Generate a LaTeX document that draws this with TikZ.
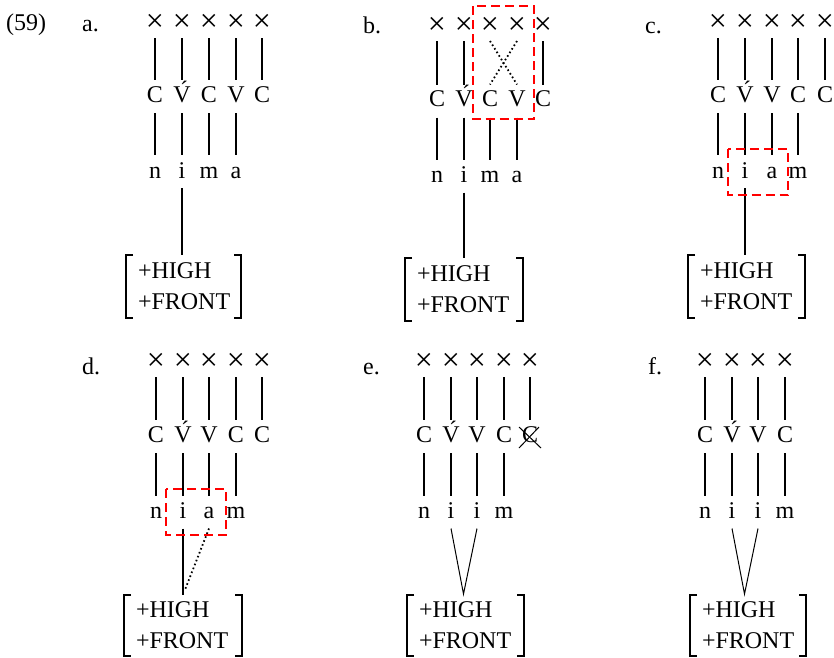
\documentclass[tikz,border=0pt]{standalone}
\usepackage{fontspec}
\setmainfont{Liberation Serif}
\usetikzlibrary{calc}
\tikzset{
  tier/.style={inner sep=0pt, outer sep=0pt, anchor=base, font=\fontsize{24}{24}\selectfont},
  xn/.style={tier, font=\fontsize{32}{32}\selectfont, text height=14pt, text depth=7pt},
  cn/.style={tier, text height=22pt, text depth=11pt},
  sn/.style={tier, text height=23pt, text depth=10pt},
  assoc/.style={line width=1.6pt},
  dotl/.style={line width=1.8pt, dash pattern=on 1.6pt off 2.6pt},
  redbox/.style={draw=red, line width=1.8pt, dash pattern=on 9pt off 5pt},
  feat/.style={inner xsep=12pt, inner ysep=0pt, outer sep=0pt, minimum height=63pt, anchor=north, align=left, text width=#1, font=\fontsize{24}{31}\selectfont},
  brk/.style={line width=2pt},
  thinl/.style={line width=1pt},
  lbl/.style={anchor=base west, inner sep=0pt, font=\fontsize{24}{24}\selectfont}
}
\newcommand{\featbrackets}[1]{%
  \draw[brk] ([xshift=7pt]#1.north west) -- (#1.north west) -- (#1.south west) -- ([xshift=7pt]#1.south west);
  \draw[brk] ([xshift=-7pt]#1.north east) -- (#1.north east) -- (#1.south east) -- ([xshift=-7pt]#1.south east);
}
\begin{document}
\begin{tikzpicture}[x=1pt,y=-1pt]
\useasboundingbox (0,0) rectangle (834,657);

% labels
\node[lbl] (l59) at (6,30) {(59)};
\node[lbl] (la) at (82,31) {a.};
\node[lbl] (lb) at (363,33) {b.};
\node[lbl] (lc) at (645,33) {c.};
\node[lbl] (ld) at (82,374) {d.};
\node[lbl] (le) at (363,374) {e.};
\node[lbl] (lf) at (648,374) {f.};

% ---------- panel a ----------
\foreach \i/\xx/\t in {1/155/C,2/182/{\'V},3/209/C,4/236/V,5/262/C}{
  \node[xn] (a-x\i) at (\xx,31) {×};
  \node[cn] (a-c\i) at (\xx,102) {\t};
  \draw[assoc] (a-x\i.south) -- (a-c\i.north);
}
\foreach \i/\xx/\t in {1/155/n,2/182/i,3/209/m,4/236/a}{
  \node[sn] (a-s\i) at (\xx,178) {\t};
  \draw[assoc] (a-c\i.south) -- (a-s\i.north);
}
\node[feat=91pt] (a-f) at (183.5,255) {+HIGH\\+FRONT};
\featbrackets{a-f}
\draw[assoc] (a-s2.south) -- (a-s2.south |- a-f.north);

% ---------- panel b ----------
\foreach \i/\xx/\t in {1/437/C,2/464/{\'V},3/490/C,4/517/V,5/543/C}{
  \node[xn] (b-x\i) at (\xx,34) {×};
  \node[cn] (b-c\i) at (\xx,106.5) {\t};
}
\foreach \i in {1,2,5}{\draw[assoc] (b-x\i.south) -- (b-c\i.north);}
\draw[dotl] (b-x3.south) -- (b-c4.north);
\draw[dotl] (b-x4.south) -- (b-c3.north);
\foreach \i/\xx/\t in {1/437/n,2/464/i,3/490/m,4/517/a}{
  \node[sn] (b-s\i) at (\xx,182.5) {\t};
  \draw[assoc] (b-c\i.south) -- (b-s\i.north);
}
\node[feat=94pt] (b-f) at (464,258) {+HIGH\\+FRONT};
\featbrackets{b-f}
\draw[assoc] (b-s2.south) -- (b-s2.south |- b-f.north);
\draw[redbox] (472.7,6) rectangle (534.3,119);

% ---------- panel c ----------
\foreach \i/\xx/\t in {1/718/C,2/745/{\'V},3/772/V,4/798/C,5/825/C}{
  \node[xn] (c-x\i) at (\xx,31) {×};
  \node[cn] (c-c\i) at (\xx,102) {\t};
  \draw[assoc] (c-x\i.south) -- (c-c\i.north);
}
\foreach \i/\xx/\t in {1/718/n,2/745/i,3/772/a,4/798/m}{
  \node[sn] (c-s\i) at (\xx,178) {\t};
  \draw[assoc] (c-c\i.south) -- (c-s\i.north);
}
\node[feat=93pt] (c-f) at (746.5,255) {+HIGH\\+FRONT};
\featbrackets{c-f}
\draw[assoc] (c-s2.south) -- (c-s2.south |- c-f.north);
\draw[redbox] (727.7,149) rectangle (788.3,195);

% ---------- panel d ----------
\foreach \i/\xx/\t in {1/156/C,2/183/{\'V},3/209/V,4/236/C,5/262/C}{
  \node[xn] (d-x\i) at (\xx,370) {×};
  \node[cn] (d-c\i) at (\xx,442) {\t};
  \draw[assoc] (d-x\i.south) -- (d-c\i.north);
}
\foreach \i/\xx/\t in {1/156/n,2/183/i,3/209/a,4/236/m}{
  \node[sn] (d-s\i) at (\xx,518.5) {\t};
  \draw[assoc] (d-c\i.south) -- (d-s\i.north);
}
\node[feat=94pt,minimum height=61pt] (d-f) at (183,595) {+HIGH\\+FRONT};
\featbrackets{d-f}
\draw[assoc] (d-s2.south) -- (d-s2.south |- d-f.north);
\coordinate (d-tip) at (184.5,591);
\draw[dotl] (d-s3.south) -- (d-tip);
\draw[redbox] (166,489) rectangle (226,535);

% ---------- panel e ----------
\foreach \i/\xx/\t in {1/424/C,2/451/{\'V},3/477/V,4/504/C,5/530/C}{
  \node[xn] (e-x\i) at (\xx,370) {×};
  \node[cn] (e-c\i) at (\xx,442) {\t};
  \draw[assoc] (e-x\i.south) -- (e-c\i.north);
}
\foreach \i/\xx/\t in {1/424/n,2/451/i,3/477/i,4/504/m}{
  \node[sn] (e-s\i) at (\xx,518.5) {\t};
  \draw[assoc] (e-c\i.south) -- (e-s\i.north);
}
\draw[thinl] ($(e-c5.base)+(-11,-15)$) -- ($(e-c5.base)+(11,6)$);
\draw[thinl] ($(e-c5.base)+(9,-15)$) -- ($(e-c5.base)+(-11,6)$);
\node[feat=93pt,minimum height=61pt] (e-f) at (465.5,595) {+HIGH\\+FRONT};
\featbrackets{e-f}
\coordinate (e-ap) at (463.5,594);
\draw[thinl] (e-s2.south) -- (e-ap) -- (e-s3.south);

% ---------- panel f ----------
\foreach \i/\xx/\t in {1/705/C,2/732/{\'V},3/758/V,4/785/C}{
  \node[xn] (f-x\i) at (\xx,370) {×};
  \node[cn] (f-c\i) at (\xx,442) {\t};
  \draw[assoc] (f-x\i.south) -- (f-c\i.north);
}
\foreach \i/\xx/\t in {1/705/n,2/732/i,3/758/i,4/785/m}{
  \node[sn] (f-s\i) at (\xx,518.5) {\t};
  \draw[assoc] (f-c\i.south) -- (f-s\i.north);
}
\node[feat=92pt,minimum height=61pt] (f-f) at (748,595) {+HIGH\\+FRONT};
\featbrackets{f-f}
\coordinate (f-ap) at (744.5,594);
\draw[thinl] (f-s2.south) -- (f-ap) -- (f-s3.south);
\end{tikzpicture}
\end{document}
